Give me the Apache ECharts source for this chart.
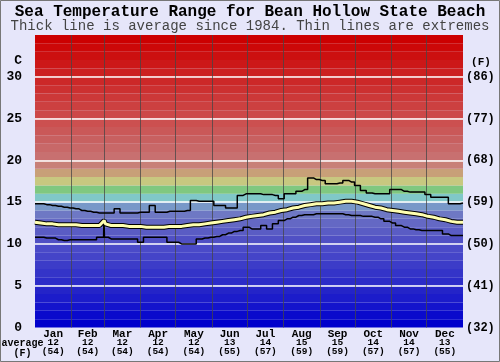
<!DOCTYPE html>
<html><head><meta charset="utf-8">
<script src="https://cdn.jsdelivr.net/npm/echarts@6/dist/echarts.min.js"></script>
<style>html,body{margin:0;padding:0;background:#E6E6FA}#c{width:500px;height:362px}</style>
</head><body><div id="c"></div>
<script>
const monthNames = ['Jan','Feb','Mar','Apr','May','Jun','Jul','Aug','Sep','Oct','Nov','Dec'];
const monthDays = [31,28,31,30,31,30,31,31,30,31,30,31];
const monthAvgC = [12,12,12,12,12,13,14,15,15,14,14,13];
const monthAvgF = [54,54,54,54,54,55,57,59,59,57,57,55];
const days = [0,5,10,15,20,25,30,35,40,45,50,55,60,65,70,75,80,85,90,95,100,105,110,115,120,125,130,135,140,145,150,155,160,165,170,175,180,185,190,195,200,205,210,215,220,225,230,235,240,245,250,255,260,265,270,275,280,285,290,295,300,305,310,315,320,325,330,335,340,345,350,355,360,365];
const maxC = [14.8,14.8,14.7,14.6,14.5,14.4,14.3,14.2,14.0,13.9,13.8,13.7,13.7,13.7,14.2,13.7,13.7,13.7,13.8,13.8,14.6,13.8,13.8,13.9,13.9,13.9,14.0,15.2,15.1,15.1,15.1,14.6,14.6,14.3,14.3,15.8,16.0,16.0,16.0,15.9,15.9,15.8,15.4,16.0,16.0,16.3,16.5,17.9,17.7,17.6,17.2,17.2,17.3,17.6,17.4,17.0,16.4,16.1,16.0,16.0,16.0,16.5,16.5,16.3,16.2,16.2,16.2,15.9,15.6,15.6,15.6,14.8,14.8,14.9];
const avgC = [12.6,12.5,12.4,12.4,12.3,12.3,12.3,12.3,12.2,12.2,12.2,12.2,12.4,12.2,12.2,12.2,12.1,12.1,12.1,12.0,12.0,12.0,12.0,12.1,12.1,12.1,12.2,12.3,12.3,12.4,12.5,12.6,12.7,12.8,12.9,13.0,13.2,13.3,13.4,13.5,13.7,13.8,14.0,14.1,14.3,14.4,14.6,14.7,14.8,14.8,14.9,14.9,15.0,15.1,15.1,15.0,14.8,14.6,14.4,14.3,14.1,14.0,13.9,13.8,13.7,13.6,13.5,13.3,13.2,13.0,12.9,12.7,12.6,12.6];
const minC = [10.8,10.8,10.7,10.7,10.5,10.4,10.5,10.5,10.5,10.5,10.5,10.8,10.8,10.6,10.6,10.6,10.6,10.6,10.2,10.8,10.8,10.8,10.8,10.2,10.2,10.0,10.0,10.0,10.6,10.7,10.8,10.9,11.1,11.3,11.5,11.6,12.0,11.8,11.8,12.2,11.8,12.4,12.8,13.0,13.2,13.4,13.5,13.5,13.6,13.6,13.6,13.6,13.6,13.5,13.4,13.4,13.3,13.3,13.2,13.0,12.7,12.5,12.2,12.0,11.8,11.7,11.6,11.6,11.6,11.6,11.2,11.0,11.0,11.0];
const minSpikeDays = [58.5, 59, 59.5];
const minSpikeVals = [10.8, 13.0, 10.8];
const avgSpikeDay = 59, avgSpikeVal = 12.8;
const fTickLabels = {0:'(32)',5:'(41)',10:'(50)',15:'(59)',20:'(68)',25:'(77)',30:'(86)'};
const bandColors = ['#0000CC','#0A0ACC','#1414CC','#1C1CCA','#2424C8','#2C2CC8','#3434C8','#3C3CC8','#4444C8','#4A4AC8',
  '#5050C4','#5A5CC4','#6468C4','#6E78C4','#7898C8','#80C8C8','#80C880','#C8C880','#C8A078','#C88078',
  '#C87070','#C86868','#C86060','#CA5858','#CC5050','#CC4848','#CC4040','#CC3838','#CC3030','#CC2828',
  '#CC2020','#CC1818','#CC1010','#CC0808','#CC0000'];

const FONT = '"Liberation Mono","Courier New",monospace';
const zip = (a, b) => a.map((d, i) => [d, b[i]]);
const minData = zip(days, minC).concat(zip(minSpikeDays, minSpikeVals)).sort((a, b) => a[0] - b[0]);
const avgData = zip(days, avgC).concat([[avgSpikeDay, avgSpikeVal]]).sort((a, b) => a[0] - b[0]);

const monthStarts = [];
const monthMids = [];
let acc = 0;
monthDays.forEach(d => { monthStarts.push(acc); monthMids.push(acc + d / 2); acc += d; });

const bands = bandColors.map((c, i) => [{ yAxis: i, itemStyle: { color: c } }, { yAxis: i + 1 }]);
const hLines = [5, 10, 15, 20, 25, 30].map(v => ({ yAxis: v, lineStyle: { color: '#FFFFFF', width: 1.5, type: 'solid' } }));
const vLines = monthStarts.slice(1).map(v => ({ xAxis: v, lineStyle: { color: 'rgba(70,70,70,0.75)', width: 1, type: 'solid' } }));

const chart = echarts.init(document.getElementById('c'), null, { renderer: 'canvas' });
chart.setOption({
  animation: false,
  backgroundColor: '#E6E6FA',
  grid: { left: 35, right: 37, top: 35, bottom: 34.5 },
  xAxis: [
    { type: 'value', min: 0, max: 365, show: false },
    { type: 'value', min: 0, max: 365, position: 'bottom', gridIndex: 0,
      axisLine: { show: false }, axisTick: { show: false }, splitLine: { show: false },
      axisLabel: {
        customValues: monthMids, margin: 2, interval: 0, showMinLabel: true, showMaxLabel: true,
        formatter: (v) => {
          const i = monthMids.indexOf(v);
          if (i < 0) return '';
          return '{m|' + monthNames[i] + '}\n{v|' + monthAvgC[i] + '}\n{v|(' + monthAvgF[i] + ')}';
        },
        rich: {
          m: { fontFamily: FONT, fontSize: 11, fontWeight: 'bold', color: '#000', lineHeight: 9 },
          v: { fontFamily: FONT, fontSize: 9.5, fontWeight: 'bold', color: '#000', lineHeight: 9 }
        }
      }
    }
  ],
  yAxis: [
    { type: 'value', min: 0, max: 35, interval: 5, position: 'left',
      axisLine: { show: false }, axisTick: { show: false }, splitLine: { show: false },
      axisLabel: { margin: 13, fontFamily: FONT, fontSize: 13, fontWeight: 'bold', color: '#000',
        formatter: v => (v === 35 ? '' : String(v)) } },
    { type: 'value', min: 0, max: 35, interval: 5, position: 'right',
      axisLine: { show: false }, axisTick: { show: false }, splitLine: { show: false },
      axisLabel: { margin: 3, fontFamily: FONT, fontSize: 12, fontWeight: 'bold', color: '#000',
        formatter: v => (fTickLabels[v] || '') } }
  ],
  series: [
    { type: 'line', name: 'bg', data: avgData, xAxisIndex: 0, yAxisIndex: 0, symbol: 'none', silent: true,
      lineStyle: { opacity: 0 }, z: 1,
      markArea: { silent: true, z: 1, data: bands, itemStyle: { borderWidth: 0 } },
      markLine: { silent: true, z: 2, symbol: ['none', 'none'], label: { show: false }, data: hLines.concat(vLines), animation: false }
    },
    { type: 'line', name: 'max', data: zip(days, maxC), step: 'middle', symbol: 'none', silent: true,
      lineStyle: { color: '#000', width: 1.5 }, z: 4 },
    { type: 'line', name: 'min', data: minData, step: 'middle', symbol: 'none', silent: true,
      lineStyle: { color: '#000', width: 1.5 }, z: 4 },
    { type: 'line', name: 'avgOutline', data: avgData, symbol: 'none', silent: true,
      lineStyle: { color: '#000', width: 5 }, z: 5 },
    { type: 'line', name: 'avg', data: avgData, symbol: 'none', silent: true,
      lineStyle: { color: '#FFFFB0', width: 3 }, z: 6 }
  ],
  graphic: [
    { type: 'text', left: 'center', top: 4, style: { text: 'Sea Temperature Range for Bean Hollow State Beach', font: 'bold 16px ' + FONT, fill: '#000' } },
    { type: 'text', left: 'center', top: 19, style: { text: 'Thick line is average since 1984. Thin lines are extremes', font: '14px ' + FONT, fill: '#444' } },
    { type: 'text', x: 22, y: 61, style: { text: 'C', font: 'bold 13px ' + FONT, fill: '#000', align: 'right', verticalAlign: 'middle' } },
    { type: 'text', x: 481, y: 62.5, style: { text: '(F)', font: 'bold 11px ' + FONT, fill: '#000', align: 'center', verticalAlign: 'middle' } },
    { type: 'text', x: 22.5, y: 343.5, style: { text: 'average', font: 'bold 10px ' + FONT, fill: '#000', align: 'center', verticalAlign: 'middle' } },
    { type: 'text', x: 22.5, y: 353, style: { text: '(F)', font: 'bold 10px ' + FONT, fill: '#000', align: 'center', verticalAlign: 'middle' } },
    { type: 'rect', shape: { x: 0.5, y: 0.5, width: 499, height: 361 }, style: { fill: 'none', stroke: '#777', lineWidth: 1 }, silent: true }
  ]
});
</script></body></html>
